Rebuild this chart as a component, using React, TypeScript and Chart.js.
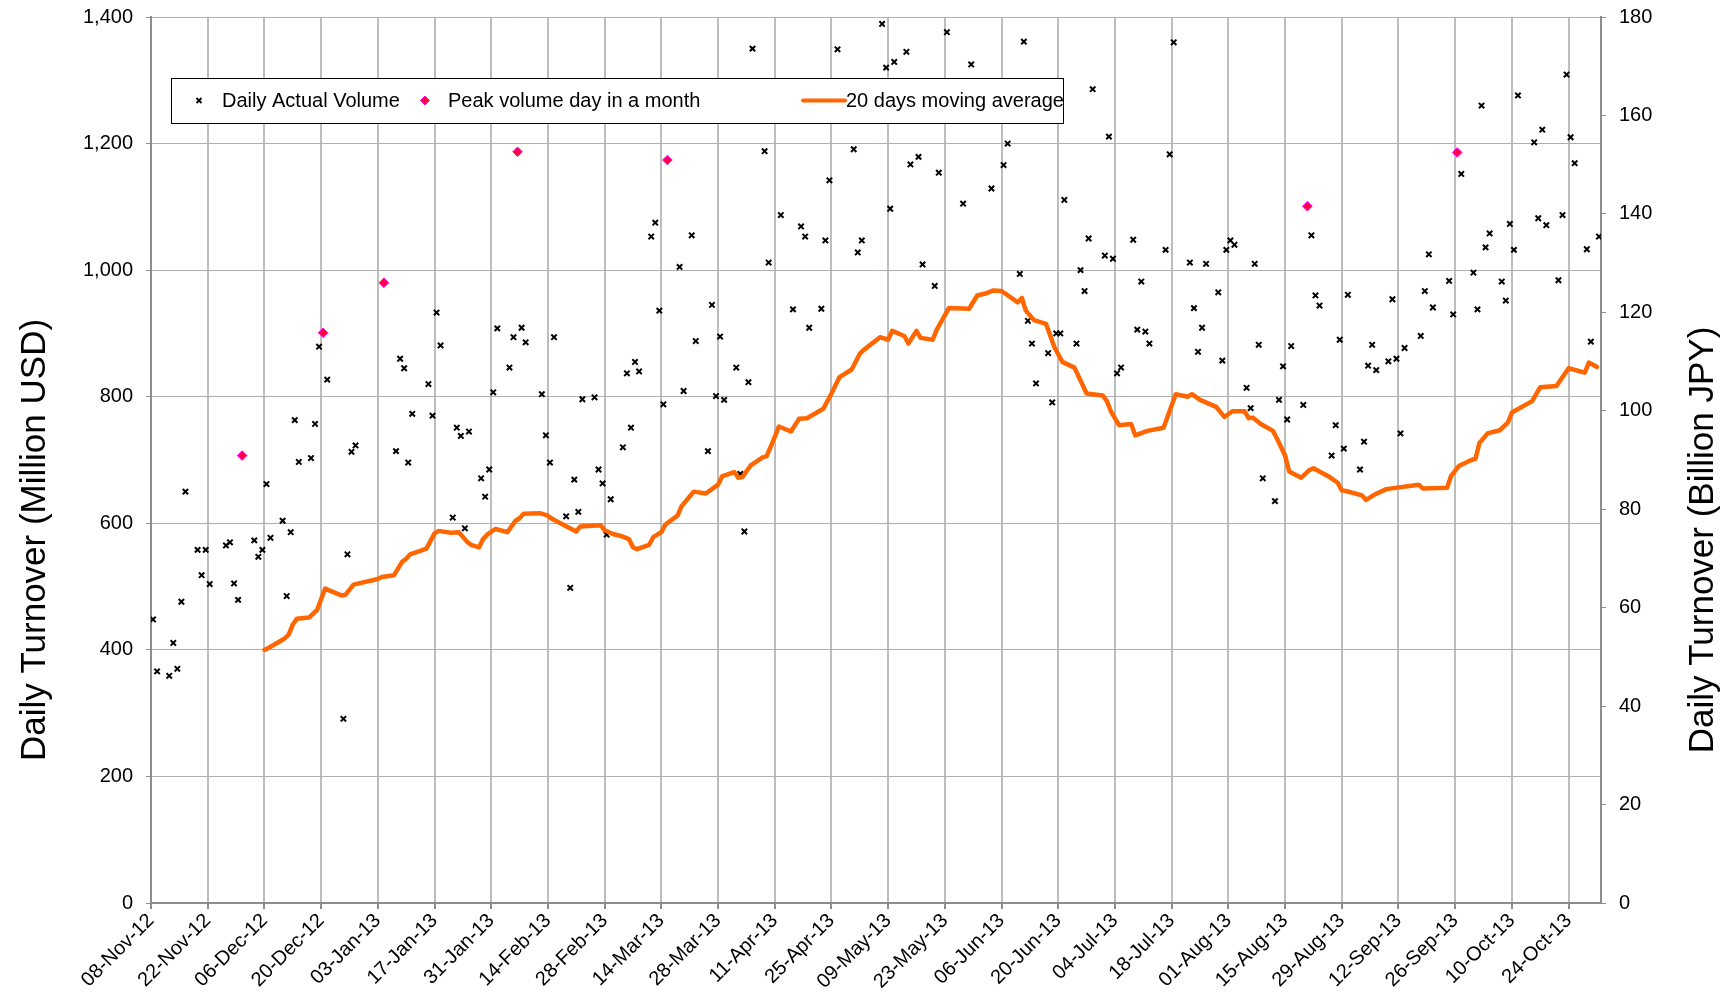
import React, { useEffect, useRef } from 'react';
import { Chart, registerables } from 'chart.js';

Chart.register(...registerables);

// x values are days since 08-Nov-12
const START_UTC = Date.UTC(2012, 10, 8);
const MONTHS = ['Jan', 'Feb', 'Mar', 'Apr', 'May', 'Jun', 'Jul', 'Aug', 'Sep', 'Oct', 'Nov', 'Dec'];

const volumeDays = [
  0, 1, 4, 5, 6, 7, 8, 11, 12, 13, 14, 18, 19, 20, 21, 25, 26, 27, 28, 29,
  32, 33, 34, 35, 36, 39, 40, 41, 43, 47, 48, 49, 50,
  60, 61, 62, 63, 64, 68, 69, 70, 71, 74, 75, 76, 77, 78, 81, 82, 83, 84, 85,
  88, 89, 91, 92, 96, 97, 98, 99, 102, 103, 104, 105, 106, 109, 110, 111, 112, 113,
  116, 117, 118, 119, 120, 123, 124, 125, 126, 130, 131, 133, 134, 137, 138, 139, 140, 141,
  144, 145, 146, 147, 148, 151, 152, 155, 158, 160, 161, 162, 165, 166, 167, 169,
  173, 174, 175, 180, 181, 182, 183, 186, 187, 189, 190, 193, 194, 196, 200, 202,
  207, 210, 211, 214, 215, 216, 217, 218, 221, 222, 223, 224, 225, 228, 229, 230, 231, 232,
  235, 236, 237, 238, 239, 242, 243, 244, 245, 246, 250, 251, 252, 256, 257, 258, 259, 260,
  263, 264, 265, 266, 267, 270, 271, 272, 273, 274, 277, 278, 279, 280, 281, 284, 286, 287, 288,
  291, 292, 293, 294, 295, 298, 299, 300, 301, 302, 305, 306, 307, 308, 309, 313, 314, 315, 316,
  320, 321, 323, 326, 327, 328, 329, 330, 333, 334, 335, 336, 337, 341, 342, 343, 344,
  347, 348, 349, 350, 351, 354, 355, 357,
];
const volumeValues = [
  448, 366, 359, 411, 370, 476, 650, 558, 518, 558, 504, 565, 570, 505, 479, 573, 547, 558, 662, 577,
  604, 485, 586, 763, 697, 703, 757, 879, 827, 291, 551, 713, 723,
  714, 860, 845, 696, 773, 820, 770, 933, 881, 609, 751, 738, 592, 745, 671, 642, 685, 807, 908,
  846, 894, 909, 886, 804, 739, 696, 894, 611, 498, 669, 618, 796, 799, 685, 663, 582, 638,
  720, 837, 751, 855, 840, 1053, 1075, 936, 788, 1005, 809, 1055, 888, 714, 945, 801, 895, 795,
  846, 678, 587, 823, 1350, 1188, 1012, 1087, 938, 1069, 1053, 909, 939, 1047, 1142, 1349,
  1191, 1028, 1047, 1389, 1320, 1097, 1329, 1345, 1167, 1179, 1009, 975, 1154, 1376, 1105, 1325,
  1129, 1166, 1200, 994, 1361, 920, 884, 821, 869, 791, 900, 900, 1111, 884, 1000, 967, 1050, 1286,
  1023, 1211, 1018, 837, 846, 1048, 906, 982, 903, 884, 1032, 1183, 1360, 1012, 940, 871, 909, 1010,
  965, 857, 1032, 1047, 1040, 814, 782, 1010, 882, 671, 635, 795, 848, 764, 880, 787, 1055, 960, 944,
  707, 755, 890, 718, 961, 685, 729, 849, 882, 842, 856, 954, 860, 742, 877, 896, 967, 1025, 941,
  983, 930, 1152, 996, 938, 1260, 1036, 1058, 982, 952, 1073, 1032, 1276, 1202, 1082, 1222, 1071,
  984, 1087, 1309, 1210, 1169, 1033, 887, 1053,
];

const peakDays = [22, 42, 57, 90, 127, 285, 322];
const peakValues = [707, 901, 980, 1187, 1174, 1101, 1186];

const maDays = [
  28, 29, 33, 34, 35, 36, 39, 41, 42, 43, 44, 47, 48, 50, 56, 57, 60, 62, 63, 64, 68, 70, 71, 74, 76,
  78, 79, 81, 82, 83, 85, 88, 90, 91, 92, 96, 98, 99, 102, 105, 106, 111, 112, 114, 116, 118, 119, 120,
  123, 124, 126, 127, 130, 131, 134, 137, 140, 141, 144, 145, 146, 148, 151, 152, 154, 155, 158, 160,
  162, 163, 166, 168, 170, 173, 175, 176, 180, 182, 183, 186, 187, 189, 190, 193, 194, 197, 202, 204,
  206, 208, 210, 214, 215, 216, 218, 221, 223, 225, 228, 231, 235, 236, 237, 239, 242, 243, 246, 250,
  253, 256, 257, 259, 263, 265, 267, 270, 271, 272, 274, 277, 278, 280, 281, 284, 286, 287, 291, 293,
  294, 295, 299, 300, 302, 305, 313, 314, 320, 321, 323, 326, 327, 328, 330, 333, 335, 336, 341, 343,
  347, 350, 354, 355, 357,
];
const maValues = [
  400, 403, 418, 424, 440, 449, 451, 463, 480, 497, 494, 486, 487, 503, 512, 515, 518, 539, 544, 551, 560, 584, 588, 585, 586,
  571, 566, 562, 575, 582, 591, 586, 604, 608, 615, 616, 612, 607, 597, 587, 595, 597, 589, 583, 580, 575, 562, 559,
  566, 578, 586, 598, 612, 627, 650, 647, 661, 674, 681, 672, 673, 691, 704, 706, 736, 753, 745, 765,
  766, 770, 781, 805, 831, 843, 868, 874, 894, 890, 904, 896, 884, 904, 893, 890, 906, 940, 939, 960,
  963, 968, 967, 949, 956, 936, 921, 915, 879, 855, 846, 805, 802, 793, 777, 755, 757, 739, 746, 751,
  804, 800, 804, 795, 784, 768, 777, 777, 766, 767, 757, 746, 734, 707, 682, 672, 684, 687, 673, 664,
  652, 651, 644, 637, 645, 654, 661, 655, 656, 675, 691, 700, 702, 727, 742, 747, 759, 775, 793, 815,
  817, 845, 838, 854, 847,
];

const X_MIN = 0;
const X_MAX = 358; // 01-Nov-13
const X_STEP = 14;
const POINT_DAY_CENTER = 0.5; // daily markers sit in the middle of their day
const LEFT_MAX = 1400;
const LEFT_STEP = 200;
const RIGHT_MAX = 180;
const RIGHT_STEP = 20;

const LEFT_TITLE = 'Daily Turnover (Million USD)';
const RIGHT_TITLE = 'Daily Turnover (Billion JPY)';
const LABEL_VOLUME = 'Daily Actual Volume';
const LABEL_PEAK = 'Peak volume day in a month';
const LABEL_MA = '20 days moving average';

const FONT = '"Liberation Sans", Arial, Helvetica, sans-serif';
const ORANGE = '#ff6600';
const PEAK_FILL = '#ff0040';
const PEAK_BORDER = '#ff00ff';

function dayLabel(d: number): string {
  const dt = new Date(START_UTC + d * 86400000);
  const dd = String(dt.getUTCDate()).padStart(2, '0');
  const yy = String(dt.getUTCFullYear() % 100).padStart(2, '0');
  return `${dd}-${MONTHS[dt.getUTCMonth()]}-${yy}`;
}

function drawCross(ctx: CanvasRenderingContext2D, x: number, y: number, r: number) {
  ctx.beginPath();
  ctx.moveTo(x - r, y - r);
  ctx.lineTo(x + r, y + r);
  ctx.moveTo(x - r, y + r);
  ctx.lineTo(x + r, y - r);
  ctx.stroke();
}

const overlayPlugin = {
  id: 'overlay',
  afterDraw(chart: any) {
    const ctx: CanvasRenderingContext2D = chart.ctx;
    // axis titles
    ctx.save();
    ctx.fillStyle = '#000';
    ctx.font = `35px ${FONT}`;
    ctx.textAlign = 'center';
    ctx.textBaseline = 'middle';
    ctx.translate(35, 540);
    ctx.rotate(-Math.PI / 2);
    ctx.fillText(LEFT_TITLE, 0, 0);
    ctx.restore();

    ctx.save();
    ctx.fillStyle = '#000';
    ctx.font = `35px ${FONT}`;
    ctx.textAlign = 'center';
    ctx.textBaseline = 'middle';
    ctx.translate(1703, 540);
    ctx.rotate(-Math.PI / 2);
    ctx.fillText(RIGHT_TITLE, 0, 0);
    ctx.restore();

    // legend box
    ctx.save();
    const bx = 171, by = 78, bw = 892, bh = 45;
    ctx.fillStyle = '#fff';
    ctx.fillRect(bx, by, bw, bh);
    ctx.strokeStyle = '#000';
    ctx.lineWidth = 1;
    ctx.strokeRect(bx + 0.5, by + 0.5, bw, bh);
    const cy = by + bh / 2;
    ctx.font = `20px ${FONT}`;
    ctx.fillStyle = '#000';
    ctx.textAlign = 'left';
    ctx.textBaseline = 'middle';

    ctx.strokeStyle = '#000';
    ctx.lineWidth = 1.8;
    drawCross(ctx, 199, cy, 2.5);
    ctx.fillText(LABEL_VOLUME, 222, cy + 1);

    ctx.beginPath();
    ctx.moveTo(425 - 4.5, cy);
    ctx.lineTo(425, cy - 4.5);
    ctx.lineTo(425 + 4.5, cy);
    ctx.lineTo(425, cy + 4.5);
    ctx.closePath();
    ctx.fillStyle = PEAK_FILL;
    ctx.fill();
    ctx.strokeStyle = PEAK_BORDER;
    ctx.lineWidth = 1;
    ctx.stroke();
    ctx.fillStyle = '#000';
    ctx.fillText(LABEL_PEAK, 448, cy + 1);

    ctx.beginPath();
    ctx.moveTo(803, cy);
    ctx.lineTo(845, cy);
    ctx.strokeStyle = ORANGE;
    ctx.lineWidth = 4;
    ctx.lineCap = 'round';
    ctx.stroke();
    ctx.fillText(LABEL_MA, 846, cy + 1);
    ctx.restore();
  },
};

export default function App() {
  const canvasRef = useRef<HTMLCanvasElement | null>(null);

  useEffect(() => {
    document.body.style.margin = '0';
    const canvas = canvasRef.current;
    if (!canvas) return;

    const volumeData = volumeDays.map((d, i) => ({ x: d + POINT_DAY_CENTER, y: volumeValues[i] }));
    const peakData = peakDays.map((d, i) => ({ x: d + POINT_DAY_CENTER, y: peakValues[i] }));
    const maData = maDays.map((d, i) => ({ x: d, y: maValues[i] }));

    const tickFont = { family: FONT, size: 20 };

    const chart = new Chart(canvas, {
      type: 'scatter',
      data: {
        datasets: [
          {
            label: LABEL_MA,
            type: 'line',
            data: maData,
            borderColor: ORANGE,
            backgroundColor: ORANGE,
            borderWidth: 4.5,
            pointRadius: 0,
            tension: 0,
            fill: false,
            showLine: true,
            borderJoinStyle: 'round',
            borderCapStyle: 'round',
            order: 0,
            yAxisID: 'y',
          } as any,
          {
            label: LABEL_PEAK,
            data: peakData,
            pointStyle: 'rectRot',
            pointRadius: 4.8,
            backgroundColor: PEAK_FILL,
            borderColor: PEAK_BORDER,
            borderWidth: 1,
            order: 1,
            yAxisID: 'y',
          },
          {
            label: LABEL_VOLUME,
            data: volumeData,
            pointStyle: 'crossRot',
            pointRadius: 3.8,
            borderColor: '#000',
            backgroundColor: '#000',
            borderWidth: 2,
            order: 2,
            yAxisID: 'y',
          },
        ],
      },
      options: {
        responsive: true,
        maintainAspectRatio: false,
        animation: false,
        events: [],
        layout: { padding: { top: 17, left: 0, right: 0, bottom: 0 } },
        plugins: {
          legend: { display: false },
          tooltip: { enabled: false },
        },
        scales: {
          x: {
            type: 'linear',
            position: 'bottom',
            min: X_MIN,
            max: X_MAX,
            ticks: {
              stepSize: X_STEP,
              includeBounds: false,
              autoSkip: false,
              minRotation: 45,
              maxRotation: 45,
              padding: 0,
              color: '#000',
              font: tickFont,
              callback: (v: any) => dayLabel(Number(v)),
            },
            grid: { color: '#bdbdbd', lineWidth: 2, tickLength: 6, tickColor: '#8c8c8c' },
            border: { color: '#8c8c8c', width: 2 },
            afterFit: (s: any) => { s.height = 94; },
          },
          y: {
            position: 'left',
            min: 0,
            max: LEFT_MAX,
            ticks: {
              stepSize: LEFT_STEP,
              padding: 13,
              color: '#000',
              font: tickFont,
              callback: (v: any) => Number(v).toLocaleString('en-US'),
            },
            grid: { color: '#b0b0b0', lineWidth: 1, tickLength: 5, tickColor: '#8c8c8c' },
            border: { color: '#8c8c8c', width: 2 },
            afterFit: (s: any) => { s.width = 151; s.paddingTop = 0; s.paddingBottom = 0; },
          },
          y2: {
            position: 'right',
            min: 0,
            max: RIGHT_MAX,
            ticks: {
              stepSize: RIGHT_STEP,
              padding: 13,
              color: '#000',
              font: tickFont,
            },
            grid: { drawOnChartArea: false, color: '#8c8c8c', tickLength: 5, tickColor: '#8c8c8c' },
            border: { color: '#8c8c8c', width: 2 },
            afterFit: (s: any) => { s.width = 132; s.paddingTop = 0; s.paddingBottom = 0; },
          },
        },
      } as any,
      plugins: [overlayPlugin],
    });

    return () => chart.destroy();
  }, []);

  return (
    <div style={{ position: 'relative', width: '1733px', height: '997px', background: '#fff' }}>
      <canvas ref={canvasRef} />
    </div>
  );
}
